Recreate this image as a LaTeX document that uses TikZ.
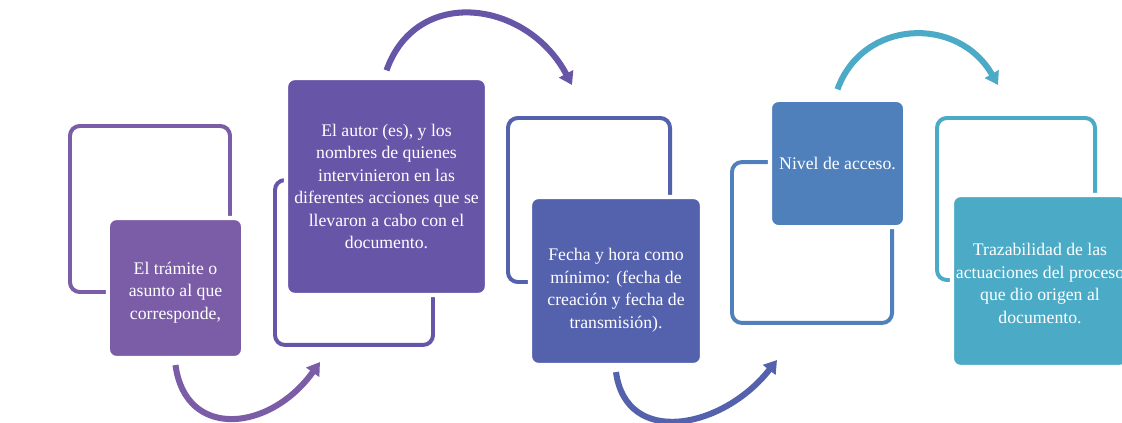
\documentclass[tikz,border=0pt]{standalone}
\usepackage{fontspec}
\setmainfont{Liberation Serif}
\usetikzlibrary{arrows.meta}

\definecolor{purA}{HTML}{7B5CA6}
\definecolor{purB}{HTML}{6755A8}
\definecolor{bluC}{HTML}{5462AE}
\definecolor{bluD}{HTML}{4F80BC}
\definecolor{cyaE}{HTML}{4BABC6}

\begin{document}
\begin{tikzpicture}[%
    x=0.025cm, y=-0.025cm,      % grid of the original image, y going down
    >={Triangle[length=9pt,width=11pt]},  % Office-like arrow heads
    ]
% -------------------------------------------------
% Box styles: open frame behind, filled box in front
\tikzset{
  frm/.style={draw=#1, line width=2.8pt, rounded corners=7pt},
  box/.style={fill=#1, draw=white, line width=3pt, rounded corners=6pt,
    text=white, align=center, inner sep=2pt,
    font=\fontsize{12.6}{16}\selectfont},
  flow/.style={->, draw=#1, line width=4.3pt},
}
\useasboundingbox (0,0) rectangle (1122,422);
\clip (0,0) rectangle (1122,422);
% -------------------------------------------------
% Frames and boxes, left to right

\node [frm=purA, minimum width=4cm, minimum height=4.15cm] (fa) at (150,209) {};
\node [box=purA, minimum width=3.38cm, minimum height=3.5cm] (a) at (175.5,288)
  {\rule{0pt}{15pt}El trámite o\\asunto al que\\corresponde,};

\node [frm=purB, minimum width=3.95cm, minimum height=4.12cm] (fb) at (354,262.5) {};
\node [box=purB, minimum width=5.02cm, minimum height=5.42cm] (b) at (386.5,186.5)
  {El autor (es), y los\\nombres de quienes\\intervinieron en las\\diferentes acciones que se\\llevaron a cabo con el\\documento.};

\node [frm=bluC, minimum width=4.05cm, minimum height=4.1cm] (fc) at (589,200) {};
\node [box=bluC, minimum width=4.3cm, minimum height=4.2cm] (c) at (616,281)
  {\rule{0pt}{22pt}Fecha y hora como\\mínimo: (fecha de\\creación y fecha de\\transmisión).};

\node [frm=bluD, minimum width=4cm, minimum height=4.02cm] (fd) at (812,242.5) {};
\node [box=bluD, minimum width=3.38cm, minimum height=3.18cm] (d) at (837.5,163.5)
  {Nivel de acceso.};

\node [frm=cyaE, minimum width=3.95cm, minimum height=4.05cm] (fe) at (1016,199) {};
\node [box=cyaE, minimum width=4.4cm, minimum height=4.3cm] (e) at (1040,281)
  {\rule{0pt}{12pt}Trazabilidad de las\\\makebox[0pt]{actuaciones del proceso}\\que dio origen al\\documento.};

% -------------------------------------------------
% Curved arrows between the steps
\coordinate (ta) at (320,362);
\coordinate (tb) at (572,85);
\coordinate (tc) at (777,360);
\coordinate (td) at (998,85);

\draw[flow=purA] ([yshift=-3.5pt]a.south) .. controls +(10,75) and +(-50,70) .. (ta);
\draw[flow=purB] ([yshift=4pt]b.north) .. controls +(30,-85) and +(-45,-85) .. (tb);
\draw[flow=bluC] ([yshift=-3.5pt]c.south) .. controls +(10,75) and +(-55,70) .. (tc);
\draw[flow=cyaE] ([yshift=6pt]d.north) .. controls +(25,-70) and +(-40,-70) .. (td);

% -------------------------------------------------
\end{tikzpicture}
\end{document}
